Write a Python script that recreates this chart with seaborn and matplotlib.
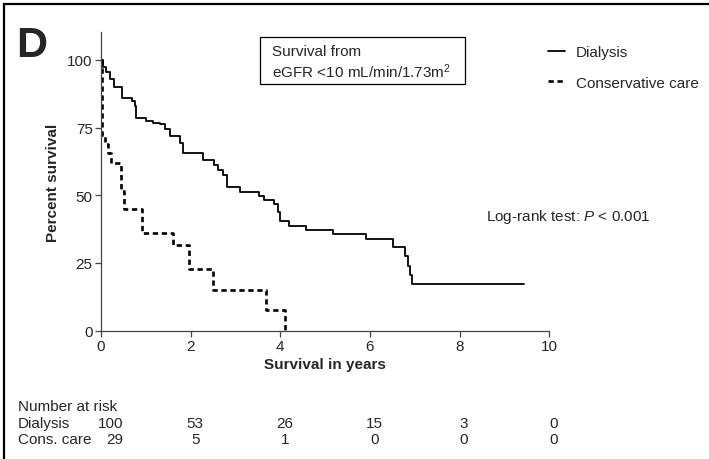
import numpy as np
import pandas as pd
import matplotlib
matplotlib.use('Agg')
import matplotlib.pyplot as plt
import seaborn as sns
from matplotlib import patches, transforms

# Kaplan-Meier steps (years, percent surviving)
dialysis_t = [0, 0.04, 0.11, 0.19, 0.30, 0.46, 0.68, 0.75, 0.79, 1.01, 1.16, 1.31, 1.42,
              1.53, 1.76, 1.83, 2.28, 2.51, 2.62, 2.73, 2.81, 3.11, 3.52, 3.63, 3.86,
              3.94, 4.00, 4.19, 4.57, 5.17, 5.92, 6.51, 6.78, 6.85, 6.89, 6.94, 9.44]
dialysis_s = [100, 97.4, 95.6, 93.0, 90.0, 86.1, 84.9, 83.0, 78.7, 77.5, 76.9, 76.3, 74.4,
              72.0, 69.5, 65.7, 63.2, 61.2, 59.4, 57.4, 52.9, 51.3, 49.8, 48.4, 46.8,
              43.7, 40.6, 38.8, 37.3, 35.7, 33.8, 31.0, 27.7, 24.0, 20.6, 17.2, 17.2]

cons_t = [0, 0.02, 0.08, 0.15, 0.22, 0.45, 0.52, 0.92, 1.60, 1.97, 2.49, 3.69, 4.10]
cons_s = [100, 72.4, 69.0, 65.5, 62.1, 51.7, 44.8, 36.2, 31.6, 22.8, 15.0, 7.6, 0]

risk_times = [0, 2, 4, 6, 8, 10]
risk_dialysis = [100, 53, 26, 15, 3, 0]
risk_cons = [29, 5, 1, 0, 0, 0]

sns.set_style('ticks')
plt.rcParams['font.family'] = ['Liberation Sans', 'DejaVu Sans']
plt.rcParams['mathtext.fontset'] = 'custom'
plt.rcParams['mathtext.rm'] = 'Liberation Sans'
plt.rcParams['mathtext.it'] = 'Liberation Sans:italic'

df_d = pd.DataFrame({'t': dialysis_t, 's': dialysis_s})
df_c = pd.DataFrame({'t': cons_t, 's': cons_s})

fig = plt.figure(figsize=(7.09, 4.60), dpi=100)
ax = fig.add_axes([0.1425, 0.279, 0.632, 0.649])

sns.lineplot(data=df_d, x='t', y='s', ax=ax, color='black', lw=1.3,
             drawstyle='steps-post', estimator=None, label='Dialysis')
sns.lineplot(data=df_c, x='t', y='s', ax=ax, color='black', lw=1.9,
             drawstyle='steps-post', estimator=None, label='Conservative care',
             linestyle=(0, (2, 1.4)))

ax.set_xlim(0, 10)
ax.set_ylim(0, 110.3)
ax.set_xticks([0, 2, 4, 6, 8, 10])
ax.set_yticks([0, 25, 50, 75, 100])
sns.despine(ax=ax)
for sp in ['left', 'bottom']:
    ax.spines[sp].set_color('#444444')
    ax.spines[sp].set_linewidth(0.9)
ax.tick_params(direction='out', length=4, width=0.9, color='#444444',
               labelsize=11, pad=2)
ax.set_xlabel('Survival in years', fontsize=11, fontweight='bold', labelpad=3)
ax.set_ylabel('Percent survival', fontsize=11, fontweight='bold', labelpad=5)

leg = ax.legend(loc='upper left', bbox_to_anchor=(0.773, 0.899),
                bbox_transform=fig.transFigure, frameon=False, fontsize=11,
                handlelength=1.1, handletextpad=0.72, labelspacing=1.06,
                borderpad=0, borderaxespad=0)

# boxed caption
fig.patches.append(patches.Rectangle((260 / 709, 1 - 85 / 460), 205 / 709, 47.3 / 460,
                                     transform=fig.transFigure, fill=False,
                                     lw=0.9, edgecolor='black'))
fig.text(272.5 / 709, 1 - 51.7 / 460, 'Survival from', fontsize=11, va='center')
fig.text(272.5 / 709, 1 - 71.7 / 460, 'eGFR <10 mL/min/1.73m$^2$', fontsize=11,
         va='center')

ax.text(8.59, 42.5, r'Log-rank test: $\mathit{P}$ < 0.001', fontsize=11,
        va='center', clip_on=False)

fig.text(16 / 709, 1 - 46 / 460, 'D', fontsize=31, fontweight='bold', va='center')

# number at risk table
tr = transforms.blended_transform_factory(ax.transData, fig.transFigure)
y_hdr, y_d, y_c = 1 - 407 / 460, 1 - 424 / 460, 1 - 440 / 460
fig.text(18 / 709, y_hdr, 'Number at risk', fontsize=11, va='center')
fig.text(18 / 709, y_d, 'Dialysis', fontsize=11, va='center')
fig.text(18 / 709, y_c, 'Cons. care', fontsize=11, va='center')
for i, t in enumerate(risk_times):
    if i == 0:
        kw = dict(ha='right', x=0.5)
    else:
        kw = dict(ha='center', x=t + 0.1)
    x = kw.pop('x')
    ax.text(x, y_d, str(risk_dialysis[i]), transform=tr, fontsize=11, va='center', **kw)
    ax.text(x, y_c, str(risk_cons[i]), transform=tr, fontsize=11, va='center', **kw)

# frame on top and left edges of the panel
fig.patches.append(patches.Rectangle((4 / 709, -0.1), 1.2, 1.1 - 5 / 460,
                                     transform=fig.transFigure, fill=False,
                                     lw=1.6, edgecolor='black'))

fig.savefig('out.png', dpi=100)
